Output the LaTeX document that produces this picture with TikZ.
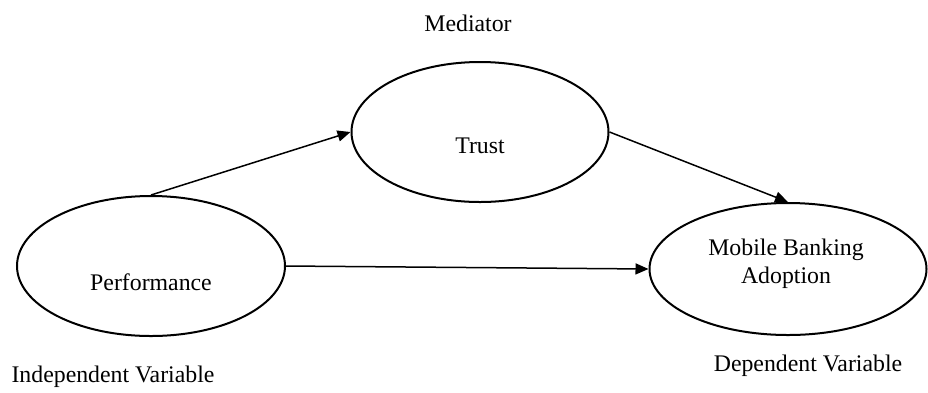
\documentclass[tikz,border=0pt]{standalone}
\usepackage{fontspec}
\setmainfont{Liberation Serif}
\usetikzlibrary{shapes.geometric,arrows.meta}
\tikzset{
  var/.style={ellipse,draw,line width=2pt,inner sep=0pt},
  lbl/.style={font=\fontsize{23.8}{28.5}\selectfont,align=center},
  path/.style={line width=1.5pt,-{Triangle[length=13pt,width=11pt]}}
}
\begin{document}
\begin{tikzpicture}[x=1pt,y=-1pt]
        \useasboundingbox (0,0) rectangle (928,392);
        \node[var,minimum width=268pt,minimum height=140pt] (perf) at (151,266) {};
        \node[var,minimum width=257pt,minimum height=140pt] (trust) at (480,132) {};
        \node[var,minimum width=277pt,minimum height=132pt] (mob) at (788,269) {};
        %%
        \node[lbl] (perftxt) at (151,282) {Performance};
        \node[lbl] (trusttxt) at (480,146) {Trust};
        \node[lbl] (mobtxt) at (786,264) {Mobile Banking\\Adoption};
        %%
        \node[lbl] (med) at (468,23) {Mediator};
        \node[lbl] (indep) at (113,377) {Independent Variable};
        \node[lbl] (dep) at (808,366) {Dependent Variable};
        %%
        \draw[path] (perf.north) -- (trust.west);
        \draw[path] (trust.east) -- (mob.north);
        \draw[path] (perf.east) -- (mob.west);
\end{tikzpicture}
\end{document}
